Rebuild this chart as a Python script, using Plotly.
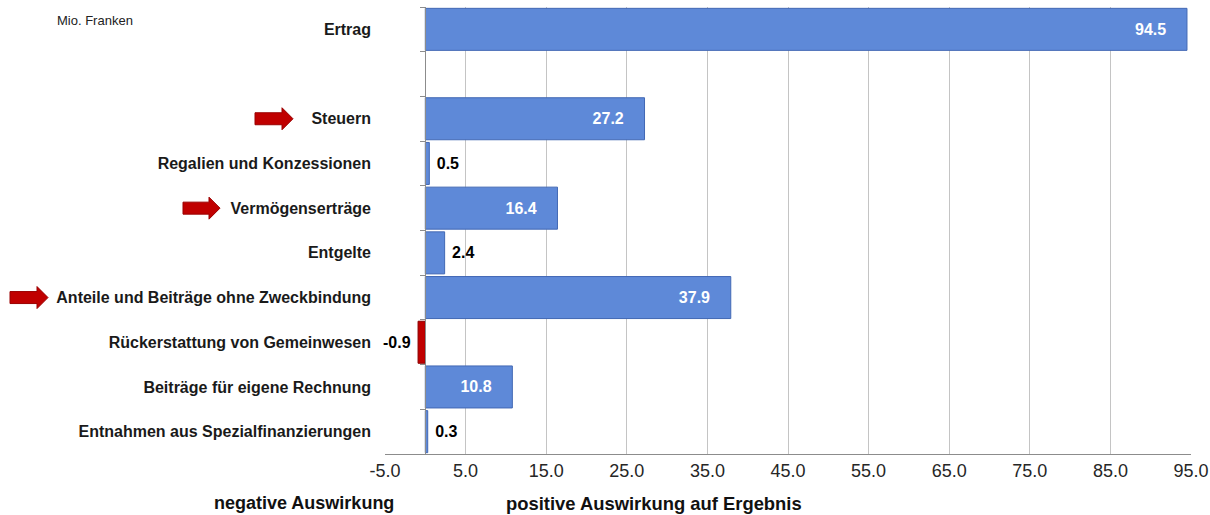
import plotly.graph_objects as go

# ---- data ----
categories = ["Ertrag", "Steuern", "Regalien und Konzessionen", "Vermögenserträge",
              "Entgelte", "Anteile und Beiträge ohne Zweckbindung",
              "Rückerstattung von Gemeinwesen", "Beiträge für eigene Rechnung",
              "Entnahmen aus Spezialfinanzierungen"]
values = [94.5, 27.2, 0.5, 16.4, 2.4, 37.9, -0.9, 10.8, 0.3]
axis_order = ["Ertrag", " ", "Steuern", "Regalien und Konzessionen", "Vermögenserträge",
              "Entgelte", "Anteile und Beiträge ohne Zweckbindung",
              "Rückerstattung von Gemeinwesen", "Beiträge für eigene Rechnung",
              "Entnahmen aus Spezialfinanzierungen"]
tick_values = [-5, 5, 15, 25, 35, 45, 55, 65, 75, 85, 95]
tick_labels = ["-5.0", "5.0", "15.0", "25.0", "35.0", "45.0", "55.0", "65.0",
               "75.0", "85.0", "95.0"]
highlighted = {"Steuern": (255, 282, 293),
               "Vermögenserträge": (183, 209, 220),
               "Anteile und Beiträge ohne Zweckbindung": (10, 37, 48)}
x_range = [-5, 95]
unit_label = "Mio. Franken"
neg_label = "negative Auswirkung"
pos_label = "positive Auswirkung auf Ergebnis"

# ---- geometry (pixels) ----
W, H = 1210, 515
L, R, T, B = 385, 1191, 7, 454
FONT = "Liberation Sans, Arial, sans-serif"

def fx(px):
    return (px - L) / (R - L)

def fy(py):
    return (B - py) / (B - T)

blue = "#5e89d8"
blue_line = "#4268b4"
red = "#c00000"
NB = "\u00a0"

colors = [red if v < 0 else blue for v in values]
lines = ["#8a0000" if v < 0 else blue_line for v in values]
positions = ["inside" if abs(v) > 5 else "outside" for v in values]
texts = []
for v in values:
    s = f"{v:.1f}"
    if abs(v) > 5:
        texts.append(s + NB * 4)
    elif v < 0:
        texts.append(s + NB)
    else:
        texts.append(NB + s)

fig = go.Figure()
fig.add_trace(go.Bar(
    x=values, y=categories, orientation="h",
    marker=dict(color=colors, line=dict(color=lines, width=1)),
    text=texts, textposition=positions, insidetextanchor="end",
    insidetextfont=dict(family=FONT, size=16, color="white", weight="bold"),
    outsidetextfont=dict(family=FONT, size=16, color="black", weight="bold"),
    textangle=0, cliponaxis=False, constraintext="none",
    hoverinfo="skip", showlegend=False,
))
# invisible trace to carry the zero-line category axis with boundary ticks
fig.add_trace(go.Scatter(
    x=[0] * len(axis_order), y=axis_order, yaxis="y2", mode="markers",
    marker=dict(opacity=0), hoverinfo="skip", showlegend=False,
))

shapes = []
n = len(axis_order)
for cat, (x0, xh, x1) in highlighted.items():
    i = axis_order.index(cat)
    cy = T + (i + 0.5) * (B - T) / n
    sh, hh = 6, 11
    pts = [(x0, cy - sh), (xh, cy - sh), (xh, cy - hh), (x1, cy), (xh, cy + hh),
           (xh, cy + sh), (x0, cy + sh)]
    path = "M " + " L ".join(f"{fx(px):.5f},{fy(py):.5f}" for px, py in pts) + " Z"
    shapes.append(dict(type="path", xref="paper", yref="paper", path=path,
                       fillcolor=red, line=dict(color="#9a0000", width=1)))

annotations = [
    dict(text=unit_label, xref="paper", yref="paper", x=fx(55), y=fy(20),
         xanchor="left", yanchor="middle", showarrow=False,
         font=dict(family=FONT, size=13, color="#222222")),
    dict(text=neg_label, xref="paper", yref="paper", x=fx(304), y=fy(503),
         xanchor="center", yanchor="middle", showarrow=False, borderpad=0,
         font=dict(family=FONT, size=18, color="#111111", weight="bold")),
    dict(text=pos_label, xref="paper", yref="paper", x=fx(654), y=fy(503),
         xanchor="center", yanchor="middle", showarrow=False, borderpad=0,
         font=dict(family=FONT, size=18.4, color="#111111", weight="bold")),
]

fig.update_layout(
    width=W, height=H,
    margin=dict(l=L, r=W - R, t=T, b=H - B, pad=0, autoexpand=False),
    paper_bgcolor="white", plot_bgcolor="white",
    bargap=0.06,
    font=dict(family=FONT),
    xaxis=dict(range=x_range, tickmode="array", tickvals=tick_values, ticktext=tick_labels,
               showgrid=True, gridcolor="#c4c4c4", gridwidth=1, automargin=False,
               zeroline=False, showline=True, linecolor="#8c8c8c", linewidth=1,
               ticks="", tickfont=dict(family=FONT, size=18, color="#262626"),
               fixedrange=True),
    yaxis=dict(type="category", categoryorder="array", categoryarray=axis_order,
               range=[n - 0.5, -0.5], showgrid=False, zeroline=False, showline=False,
               ticks="", ticklabelstandoff=13, automargin=False,
               tickfont=dict(family=FONT, size=16, color="#1a1a1a", weight="bold")),
    yaxis2=dict(type="category", categoryorder="array", categoryarray=axis_order,
                range=[n - 0.5, -0.5], overlaying="y", anchor="free",
                position=(0 - x_range[0]) / (x_range[1] - x_range[0]),
                side="left", showgrid=False, zeroline=False, showline=True,
                linecolor="#8c8c8c", linewidth=1, ticks="outside", tickson="boundaries",
                ticklen=5, tickcolor="#8c8c8c", showticklabels=False, automargin=False),
    shapes=shapes,
    annotations=annotations,
)

fig.write_html("out.html", config={"displayModeBar": False},
               post_script="document.body.style.margin='0';")
